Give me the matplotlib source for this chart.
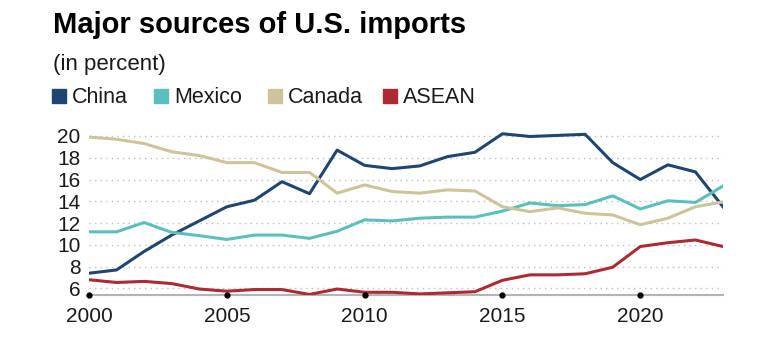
from __future__ import annotations

import matplotlib

matplotlib.use("Agg")
import matplotlib.pyplot as plt
from matplotlib.patches import Rectangle

plt.rcParams["font.family"] = ["Liberation Sans", "DejaVu Sans"]

years = list(range(2000, 2024))
china = [7.4, 7.7, 9.4, 10.9, 12.2, 13.5, 14.1, 15.8, 14.7, 18.7, 17.3, 17.0,
         17.25, 18.1, 18.5, 20.2, 19.95, 20.05, 20.15, 17.55, 16.0, 17.35, 16.7, 13.5]
mexico = [11.2, 11.2, 12.05, 11.15, 10.85, 10.5, 10.9, 10.9, 10.6, 11.25, 12.3, 12.2,
          12.45, 12.55, 12.55, 13.1, 13.85, 13.6, 13.7, 14.5, 13.3, 14.05, 13.9, 15.4]
canada = [19.9, 19.7, 19.3, 18.55, 18.2, 17.55, 17.55, 16.65, 16.65, 14.75, 15.5, 14.9,
          14.75, 15.05, 14.95, 13.5, 13.05, 13.4, 12.9, 12.75, 11.85, 12.45, 13.5, 13.95]
asean = [6.8, 6.55, 6.65, 6.45, 5.95, 5.75, 5.9, 5.9, 5.45, 5.95, 5.65, 5.65,
         5.5, 5.6, 5.7, 6.75, 7.25, 7.25, 7.35, 7.95, 9.85, 10.2, 10.45, 9.85]

series_names = ["China", "Mexico", "Canada", "ASEAN"]
series_values = [china, mexico, canada, asean]
colors = ["#1f4570", "#5cbfbf", "#cdc49b", "#ad2a33"]

x_ticks = [2000, 2005, 2010, 2015, 2020]
y_ticks = [6, 8, 10, 12, 14, 16, 18, 20]


def main() -> None:
    fig = plt.figure(figsize=(7.72, 3.44), dpi=100)
    ax = fig.add_axes([89 / 772, 1 - 295 / 344, 634 / 772, (295 - 131.6) / 344])

    # dotted horizontal guides
    for v in y_ticks:
        ax.axhline(v, color="#bdbdbd", lw=1.0, ls=(0, (1, 3)), zorder=1)

    for name, vals, c in zip(series_names, series_values, colors):
        ax.plot(years, vals, color=c, lw=2.2, zorder=3)

    ax.set_xlim(2000, 2023)
    ax.set_ylim(5.4, 20.4)
    ax.set_yticks(y_ticks)
    ax.set_xticks(x_ticks)
    ax.tick_params(axis="both", length=0, labelsize=15, colors="#1a1a1a")
    ax.tick_params(axis="y", pad=6)
    ax.tick_params(axis="x", pad=9)

    for side in ["top", "right", "left"]:
        ax.spines[side].set_visible(False)
    ax.spines["bottom"].set_color("#b4b4b4")
    ax.spines["bottom"].set_linewidth(1.5)

    # little dots where the ticks sit
    ax.plot(x_ticks, [5.4] * len(x_ticks), "o", color="black", ms=3.5,
            clip_on=False, zorder=5)

    fig.text(53 / 772, 1 - 33 / 344, "Major sources of U.S. imports",
             fontsize=21, fontweight="bold", va="baseline", ha="left")
    fig.text(53 / 772, 1 - 70 / 344, "(in percent)", fontsize=16,
             va="baseline", ha="left", color="#1a1a1a")

    # legend drawn by hand
    legend_x = [52, 154, 268, 383]
    for lx, name, c in zip(legend_x, series_names, colors):
        fig.patches.append(Rectangle((lx / 772, 1 - 102.7 / 344), 14 / 772, 13.4 / 344,
                                     transform=fig.transFigure, color=c))
        fig.text((lx + 20) / 772, 1 - 102.7 / 344, name, fontsize=15.5,
                 va="baseline", ha="left", color="#1a1a1a")

    fig.savefig("out.png", dpi=100)
    plt.close(fig)


if __name__ == "__main__":
    main()
